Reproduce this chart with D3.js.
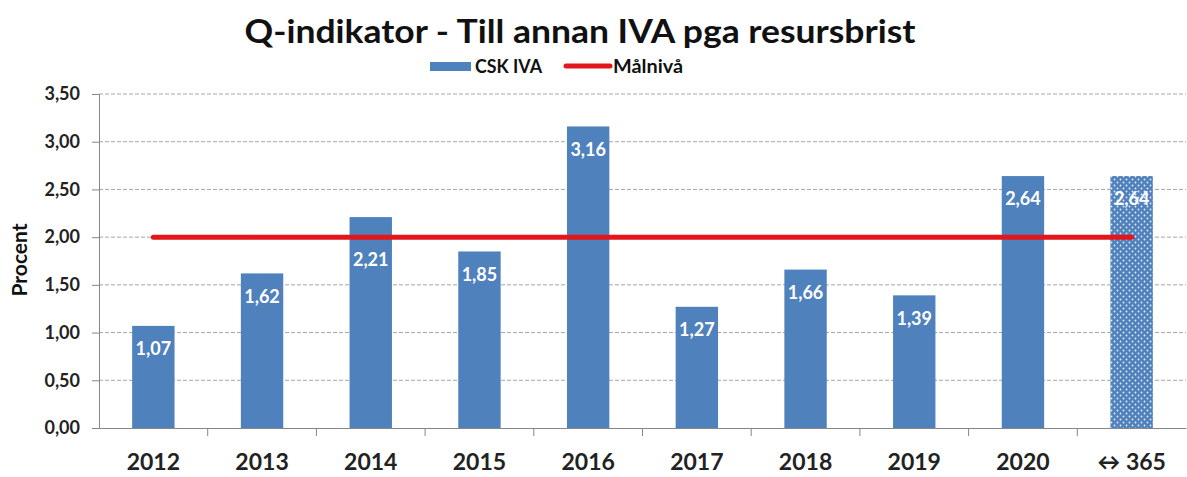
<!DOCTYPE html>
<html>
<head>
<meta charset="utf-8">
<script src="https://cdn.jsdelivr.net/npm/d3@7"></script>
<style>
  body { margin: 0; background: #fff; }
  text { font-family: Lato, "Open Sans", sans-serif; font-weight: bold; }
</style>
</head>
<body>
<div id="chart"></div>
<script>
const categories = ["2012", "2013", "2014", "2015", "2016", "2017", "2018", "2019", "2020", "\u2194 365"];
const cskIva = [1.07, 1.62, 2.21, 1.85, 3.16, 1.27, 1.66, 1.39, 2.64, 2.64];
const malniva = [2, 2, 2, 2, 2, 2, 2, 2, 2, 2];
const yTicks = [0, 0.5, 1, 1.5, 2, 2.5, 3, 3.5];
const patternedIndex = 9; // last bar = rolling 365 days

const W = 1187, H = 477;
const margin = { top: 94, right: 1, bottom: 49, left: 99 };
const width = W - margin.left - margin.right,
  height = H - margin.top - margin.bottom;

const locale = d3.formatLocale({ decimal: ",", thousands: " ", grouping: [3], currency: ["", ""] });
const fmt = locale.format(".2f");

const svg = d3.select("#chart")
  .append("svg")
  .attr("width", W)
  .attr("height", H);

const defs = svg.append("defs");
const pat = defs.append("pattern")
  .attr("id", "dots")
  .attr("patternUnits", "userSpaceOnUse")
  .attr("width", 6)
  .attr("height", 6);
pat.append("rect").attr("width", 6).attr("height", 6).attr("fill", "#4f81bd");
pat.append("circle").attr("cx", 1.5).attr("cy", 1.5).attr("r", 0.9).attr("fill", "#e8eef8");
pat.append("circle").attr("cx", 4.5).attr("cy", 4.5).attr("r", 0.9).attr("fill", "#e8eef8");

// title
svg.append("text")
  .attr("x", 580)
  .attr("y", 43)
  .attr("text-anchor", "middle")
  .attr("font-size", 33)
  .attr("textLength", 671)
  .attr("lengthAdjust", "spacingAndGlyphs")
  .attr("fill", "#111")
  .text("Q-indikator - Till annan IVA pga resursbrist");

const g = svg.append("g")
  .attr("transform", "translate(" + margin.left + "," + margin.top + ")");

const x = d3.scaleBand()
  .domain(categories)
  .range([0, width])
  .paddingInner(0.61)
  .paddingOuter(0.305);

const y = d3.scaleLinear()
  .domain([0, 3.5])
  .range([height, 0]);

// gridlines
g.append("g")
  .selectAll("line")
  .data(yTicks.filter(d => d > 0))
  .join("line")
  .attr("x1", 0)
  .attr("x2", width)
  .attr("y1", d => y(d))
  .attr("y2", d => y(d))
  .attr("stroke", "#a6a6a6")
  .attr("stroke-width", 1)
  .attr("stroke-dasharray", "4,2");

// bars
g.append("g")
  .selectAll("rect")
  .data(cskIva)
  .join("rect")
  .attr("x", (d, i) => x(categories[i]))
  .attr("y", d => y(d))
  .attr("width", x.bandwidth())
  .attr("height", d => height - y(d))
  .attr("fill", (d, i) => i === patternedIndex ? "url(#dots)" : "#4f81bd");

// Y axis
const yAxis = g.append("g")
  .call(d3.axisLeft(y).tickValues(yTicks).tickFormat(fmt).tickSize(7).tickPadding(12));
yAxis.select(".domain").attr("stroke", "#868686");
yAxis.selectAll(".tick line").attr("stroke", "#868686");
yAxis.selectAll("text").attr("font-size", 18).attr("fill", "#222");

// X axis, ticks at category boundaries
const xAxis = g.append("g")
  .attr("transform", "translate(0," + height + ")")
  .call(d3.axisBottom(x).tickSize(0).tickPadding(26));
xAxis.select(".domain").attr("stroke", "#868686");
xAxis.selectAll("text").attr("font-size", 23).attr("fill", "#222");
g.append("g")
  .selectAll("line")
  .data(categories.slice(1))
  .join("line")
  .attr("x1", d => x(d) - x.step() * x.paddingInner() / 2)
  .attr("x2", d => x(d) - x.step() * x.paddingInner() / 2)
  .attr("y1", height)
  .attr("y2", height + 8)
  .attr("stroke", "#868686");

// target line
const line = d3.line()
  .x((d, i) => x(categories[i]) + x.bandwidth() / 2)
  .y(d => y(d));
g.append("path")
  .datum(malniva)
  .attr("fill", "none")
  .attr("stroke", "#e3161c")
  .attr("stroke-width", 5)
  .attr("stroke-linecap", "round")
  .attr("d", line);

// bar value labels, moved under the target line if they collide
g.append("g")
  .selectAll("text")
  .data(cskIva)
  .join("text")
  .attr("x", (d, i) => x(categories[i]) + x.bandwidth() / 2)
  .attr("y", (d, i) => {
    let ly = y(d) + 23;
    const ty = y(malniva[i]);
    if (Math.abs(ly - ty) < 12) ly = ty + 23;
    return ly;
  })
  .attr("dy", "0.35em")
  .attr("text-anchor", "middle")
  .attr("font-size", 18)
  .attr("fill", "#fff")
  .text(d => fmt(d));

// y axis title
svg.append("text")
  .attr("transform", "translate(27,260) rotate(-90)")
  .attr("text-anchor", "middle")
  .attr("font-size", 21)
  .attr("fill", "#111")
  .text("Procent");

// legend
const legend = svg.append("g");
legend.append("rect")
  .attr("x", 430).attr("y", 62).attr("width", 41).attr("height", 9)
  .attr("fill", "#4f81bd");
legend.append("text")
  .attr("x", 475).attr("y", 73)
  .attr("font-size", 19).attr("fill", "#111")
  .attr("textLength", 67).attr("lengthAdjust", "spacingAndGlyphs")
  .text("CSK IVA");
legend.append("line")
  .attr("x1", 566).attr("x2", 610).attr("y1", 66).attr("y2", 66)
  .attr("stroke", "#e3161c").attr("stroke-width", 5).attr("stroke-linecap", "round");
legend.append("text")
  .attr("x", 613).attr("y", 73)
  .attr("font-size", 19).attr("fill", "#111")
  .attr("textLength", 70).attr("lengthAdjust", "spacingAndGlyphs")
  .text("Målnivå");
</script>
</body>
</html>
